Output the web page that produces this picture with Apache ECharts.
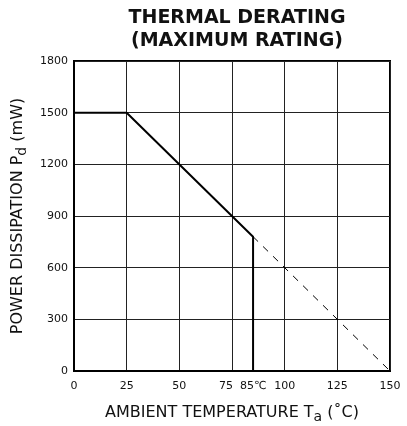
<!DOCTYPE html>
<html>
<head>
<meta charset="utf-8">
<script src="https://cdn.jsdelivr.net/npm/echarts@6/dist/echarts.min.js"></script>
<style>
  html, body { margin: 0; padding: 0; background: #fff; }
  #main { width: 407px; height: 426px; }
</style>
</head>
<body>
<div id="main"></div>
<script>
// derating curve (maximum rating)
var solidTemp = [0, 25, 85, 85]
var solidPower = [1500, 1500, 780, 0]
// extrapolated part, dashed
var dashTemp = [85, 150]
var dashPower = [780, 0]
// axis label positions
var xLabels = [0, 25, 50, 75, 85, 100, 125, 150]
var yTicks = [0, 300, 600, 900, 1200, 1500, 1800]

function pairs(xs, ys) {
  return xs.map(function(x, i) { return [x, ys[i]] })
}

var font = 'DejaVu Sans, sans-serif'
var chart = echarts.init(document.getElementById('main'))
chart.setOption({
  animation: false,
  title: {
    text: 'THERMAL DERATING\n(MAXIMUM RATING)',
    left: 232,
    textAlign: 'center',
    top: 2,
    textStyle: {
      fontFamily: font,
      fontSize: 19,
      fontWeight: 'bold',
      color: '#111',
      lineHeight: 23
    }
  },
  grid: {
    left: 74,
    right: 17,
    top: 61,
    bottom: 55,
    outerBoundsMode: 'none',
    show: true,
    borderColor: '#000',
    borderWidth: 2
  },
  xAxis: {
    type: 'value',
    min: 0,
    max: 150,
    interval: 25,
    name: 'AMBIENT TEMPERATURE T{sub|a} (\u02daC)',
    nameLocation: 'middle',
    nameGap: 30,
    nameTextStyle: {
      fontFamily: font,
      fontSize: 16,
      color: '#111',
      rich: {
        sub: { fontFamily: font, fontSize: 14, color: '#111', padding: [9, 0, 0, 0] }
      }
    },
    axisLine: { show: true, lineStyle: { color: '#000', width: 2 } },
    axisTick: { show: false },
    axisLabel: {
      customValues: xLabels,
      margin: 10,
      fontFamily: font,
      fontSize: 11,
      color: '#111',
      formatter: function(v) {
        if (v === 75) return '{l|75}'
        if (v === 85) return '85\u2103'
        return String(v)
      },
      rich: {
        l: { fontFamily: font, fontSize: 11, color: '#111', padding: [0, 12, 0, 0] }
      }
    },
    splitLine: { show: true, lineStyle: { color: '#222', width: 1 } }
  },
  yAxis: {
    type: 'value',
    min: 0,
    max: 1800,
    interval: 300,
    name: 'POWER DISSIPATION P{sub|d} (mW)',
    nameLocation: 'middle',
    nameGap: 44,
    nameTextStyle: {
      fontFamily: font,
      fontSize: 16,
      color: '#111',
      rich: {
        sub: { fontFamily: font, fontSize: 14, color: '#111', padding: [9, 0, 0, 0] }
      }
    },
    axisLine: { show: true, lineStyle: { color: '#000', width: 2 } },
    axisTick: { show: false },
    axisLabel: {
      customValues: yTicks,
      margin: 6,
      fontFamily: font,
      fontSize: 11,
      color: '#111',
      padding: [3, 0, 0, 0],
      formatter: function(v) { return String(v) }
    },
    splitLine: { show: true, lineStyle: { color: '#222', width: 1 } }
  },
  series: [
    {
      type: 'line',
      data: pairs(solidTemp, solidPower),
      symbol: 'none',
      lineStyle: { color: '#000', width: 2 }
    },
    {
      type: 'line',
      data: pairs(dashTemp, dashPower),
      symbol: 'none',
      lineStyle: { color: '#000', width: 1, type: [7, 7] }
    }
  ]
})
</script>
</body>
</html>
